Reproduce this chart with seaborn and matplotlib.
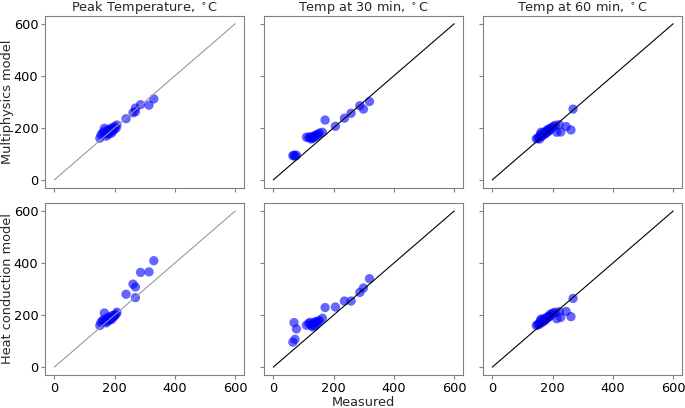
import numpy as np
import pandas as pd
import matplotlib
matplotlib.use("Agg")
import matplotlib.pyplot as plt
import seaborn as sns

# measured values per column (shared by both model rows)
peak_measured = [151, 155, 160, 165, 166, 170, 172, 175, 178, 180, 182, 185, 188,
                 190, 192, 195, 198, 200, 205, 208, 238, 261, 269, 269, 286, 314, 330]
peak_multiphysics = [160, 173, 180, 185, 198, 178, 168, 190, 182, 175, 195, 186, 192,
                     180, 200, 188, 196, 205, 198, 211, 235, 258, 262, 276, 289, 287, 311]
peak_heatcond = [160, 172, 178, 183, 208, 176, 170, 188, 180, 178, 193, 185, 190,
                 183, 198, 192, 195, 200, 203, 211, 280, 319, 267, 308, 364, 366, 409]

t30_measured = [65, 69, 72, 77, 110, 118, 122, 126, 130, 132, 135, 138, 140, 144,
                148, 153, 163, 172, 206, 236, 258, 287, 299, 319]
t30_multiphysics = [93, 95, 91, 95, 164, 162, 166, 157, 160, 164, 168, 165, 172, 170,
                    175, 180, 183, 230, 206, 237, 256, 285, 272, 301]
t30_heatcond = [96, 171, 107, 147, 161, 168, 172, 160, 155, 165, 170, 158, 175, 168,
                176, 179, 188, 229, 231, 254, 254, 287, 304, 340]

t60_measured = [146, 151, 155, 157, 160, 162, 165, 168, 171, 175, 176, 180, 182,
                185, 188, 190, 193, 198, 202, 209, 214, 222, 227, 245, 261, 268]
t60_multiphysics = [158, 160, 165, 157, 175, 183, 168, 172, 183, 178, 177, 186, 192,
                    185, 195, 190, 198, 200, 205, 210, 183, 212, 184, 205, 192, 272]
t60_heatcond = [160, 163, 168, 165, 178, 185, 172, 175, 186, 180, 182, 188, 192,
                190, 196, 195, 204, 202, 208, 211, 186, 213, 191, 214, 194, 264]

titles = ["Peak Temperature, $^\\circ$C", "Temp at 30 min, $^\\circ$C", "Temp at 60 min, $^\\circ$C"]
row_labels = ["Multiphysics model", "Heat conduction model"]
ticks = [0, 200, 400, 600]

columns = [
    (peak_measured, peak_multiphysics, peak_heatcond),
    (t30_measured, t30_multiphysics, t30_heatcond),
    (t60_measured, t60_multiphysics, t60_heatcond),
]
line_colors = ["#999999", "black", "black"]

sns.set_style("white")
plt.rcParams["font.family"] = ["DejaVu Sans"]
plt.rcParams["axes.edgecolor"] = "#808080"
plt.rcParams["xtick.color"] = "#808080"
plt.rcParams["ytick.color"] = "#808080"
plt.rcParams["xtick.labelcolor"] = "black"
plt.rcParams["ytick.labelcolor"] = "black"

fs = 9.3

fig, axes = plt.subplots(2, 3, figsize=(6.85, 4.08), dpi=100, sharex=True, sharey=True)
fig.subplots_adjust(left=0.066, right=0.996, top=0.961, bottom=0.081, wspace=0.1, hspace=0.09)

for j, (meas, multi, heat) in enumerate(columns):
    for i, model in enumerate([multi, heat]):
        ax = axes[i, j]
        df = pd.DataFrame({"measured": meas, "model": model})
        sns.lineplot(x=[0, 600], y=[0, 600], color=line_colors[j], lw=0.8, ax=ax)
        sns.scatterplot(data=df, x="measured", y="model", color="blue", alpha=0.6,
                        s=45, edgecolor="none", ax=ax)
        ax.set_xlabel("")
        ax.set_ylabel("")
        ax.set_xticks(ticks)
        ax.set_yticks(ticks)
        ax.tick_params(axis="both", which="both", length=3, pad=2, labelsize=fs,
                       bottom=True, left=True)
        if i == 0:
            ax.set_title(titles[j], fontsize=fs, pad=0.5)

axes[0, 0].set_ylabel(row_labels[0], fontsize=fs, labelpad=0)
axes[1, 0].set_ylabel(row_labels[1], fontsize=fs, labelpad=0)
axes[1, 1].set_xlabel("Measured", fontsize=fs, labelpad=1)

fig.savefig("out.png", dpi=100)
